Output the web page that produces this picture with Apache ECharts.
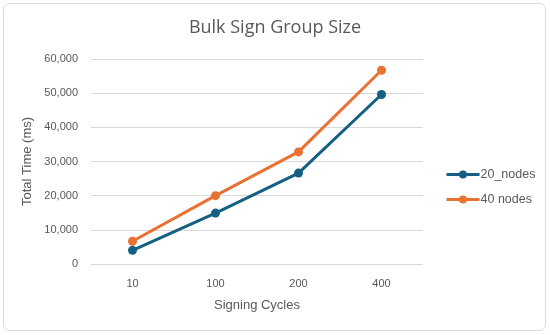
<!DOCTYPE html>
<html><head><meta charset="utf-8">
<script src="https://cdn.jsdelivr.net/npm/echarts@6/dist/echarts.min.js"></script>
<style>html,body{margin:0;padding:0;background:#fff}#c{width:550px;height:335px}</style>
</head><body><div id="c"></div>
<script>
const categories = ['10','100','200','400'];
const nodes20 = [4000, 14900, 26600, 49600];
const nodes40 = [6650, 20000, 32800, 56700];
const seriesNames = ['20_nodes','40 nodes'];
const chart = echarts.init(document.getElementById('c'));
const font = 'Liberation Sans, Arial, sans-serif';
chart.setOption({
  animation:false,
  textStyle:{fontFamily:font},
  title:{text:'Bulk Sign Group Size',left:'center',top:14,textStyle:{fontSize:18,fontWeight:'normal',color:'#595959',fontFamily:'Open Sans, sans-serif'}},
  graphic:[{type:'rect',shape:{x:3.5,y:3.5,width:542,height:327,r:6},style:{fill:'none',stroke:'#d9d9d9',lineWidth:1}}],
  legend:{orient:'vertical',left:440,top:163,itemWidth:33,itemHeight:10,itemGap:12,
    lineStyle:{width:3},
    textStyle:{fontSize:12.5,color:'#595959',padding:[0,0,0,-4]},data:seriesNames},
  grid:{left:91,right:127,top:59,bottom:71},
  xAxis:{type:'category',data:categories,name:'Signing Cycles',nameLocation:'middle',nameGap:35,
    nameTextStyle:{fontSize:13,color:'#595959'},
    axisLine:{show:false},axisTick:{show:false},axisLabel:{color:'#595959',fontSize:11,margin:14}},
  yAxis:{type:'value',min:0,max:60000,interval:10000,name:'Total Time (ms)',nameLocation:'middle',nameGap:53,
    nameTextStyle:{fontSize:13,color:'#595959'},
    axisLabel:{color:'#595959',fontSize:11,margin:13,formatter:v=>v.toLocaleString('en-US')},
    splitLine:{lineStyle:{color:'#d9d9d9',width:1}}},
  series:[
    {name:seriesNames[0],type:'line',data:nodes20,symbol:'circle',symbolSize:9,color:'#156082',lineStyle:{width:3}},
    {name:seriesNames[1],type:'line',data:nodes40,symbol:'circle',symbolSize:9,color:'#E97132',lineStyle:{width:3}}
  ]
});
</script></body></html>
